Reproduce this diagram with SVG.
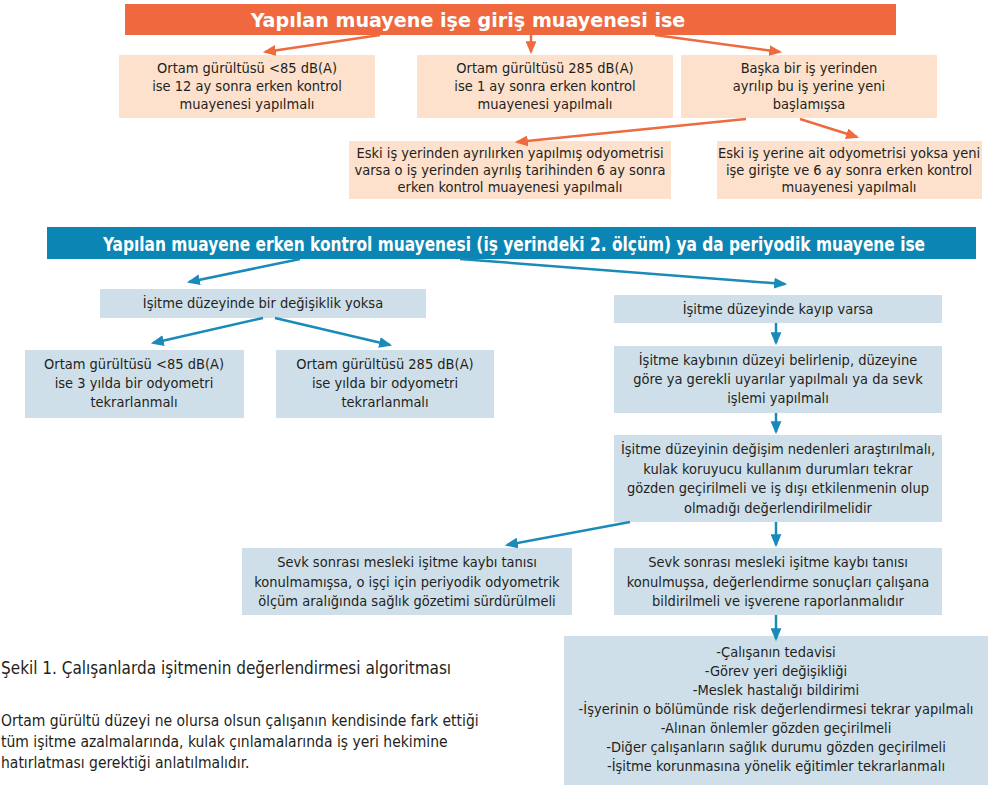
<svg xmlns="http://www.w3.org/2000/svg" width="1000" height="791" viewBox="0 0 1000 791">
<defs>
<style>
text{font-family:"Liberation Sans Narrow","DejaVu Sans Condensed","Roboto Condensed","Liberation Sans",sans-serif;fill:#231f20;font-size:14.5px;text-anchor:middle}
.hdr{fill:#fff;font-weight:bold;font-size:20px}
.ob{fill:#fde1cc}
.bb{fill:#cfdfea}
.oa{stroke:#ee6a3f;stroke-width:2.5;fill:none;marker-end:url(#ao)}
.ba{stroke:#1a8ab8;stroke-width:2.5;fill:none;marker-end:url(#ab)}
.left{text-anchor:start;font-size:15.5px}
</style>
<marker id="ao" viewBox="0 0 12 10" refX="10" refY="5" markerWidth="13" markerHeight="11" markerUnits="userSpaceOnUse" orient="auto"><path d="M0,0 L12,5 L0,10 Z" fill="#ee6a3f"/></marker>
<marker id="ab" viewBox="0 0 12 10" refX="10" refY="5" markerWidth="13" markerHeight="11" markerUnits="userSpaceOnUse" orient="auto"><path d="M0,0 L12,5 L0,10 Z" fill="#1a8ab8"/></marker>
</defs>
<rect width="1000" height="791" fill="#fff"/>

<g id="n-giris">
<rect x="125" y="4" width="771" height="31" fill="#f0683d"/>
<text class="hdr" transform="translate(468,27) scale(0.9,1)" x="0" y="0" textLength="483" lengthAdjust="spacingAndGlyphs">Yapılan muayene işe giriş muayenesi ise</text>
</g>
<g id="n-o1">
<rect class="ob" x="119" y="55" width="256" height="63"/>
<text x="247" y="73">Ortam gürültüsü &lt;85 dB(A)</text>
<text x="247" y="91">ise 12 ay sonra erken kontrol</text>
<text x="247" y="109">muayenesi yapılmalı</text>
</g>
<g id="n-o2">
<rect class="ob" x="417" y="55" width="256" height="63"/>
<text x="545" y="73">Ortam gürültüsü 285 dB(A)</text>
<text x="545" y="91">ise 1 ay sonra erken kontrol</text>
<text x="545" y="109">muayenesi yapılmalı</text>
</g>
<g id="n-o3">
<rect class="ob" x="681" y="55" width="256" height="63"/>
<text x="809" y="73">Başka bir iş yerinden</text>
<text x="809" y="91">ayrılıp bu iş yerine yeni</text>
<text x="809" y="109">başlamışsa</text>
</g>
<g id="n-o4">
<rect class="ob" x="349" y="141" width="322" height="58"/>
<text x="510" y="158">Eski iş yerinden ayrılırken yapılmış odyometrisi</text>
<text x="510" y="175">varsa o iş yerinden ayrılış tarihinden 6 ay sonra</text>
<text x="510" y="192">erken kontrol muayenesi yapılmalı</text>
</g>
<g id="n-o5">
<rect class="ob" x="717" y="141" width="265" height="58"/>
<text x="849" y="158">Eski iş yerine ait odyometrisi yoksa yeni</text>
<text x="849" y="175">işe girişte ve 6 ay sonra erken kontrol</text>
<text x="849" y="192">muayenesi yapılmalı</text>
</g>

<g id="n-periyodik">
<rect x="47" y="227" width="929" height="32" fill="#0b86b4"/>
<text class="hdr" transform="translate(514,251) scale(0.86,1)" x="0" y="0" textLength="956" lengthAdjust="spacingAndGlyphs">Yapılan muayene erken kontrol muayenesi (iş yerindeki 2. ölçüm) ya da periyodik muayene ise</text>
</g>
<g id="n-b1">
<rect class="bb" x="100" y="289" width="326" height="29"/>
<text x="263" y="308">İşitme düzeyinde bir değişiklik yoksa</text>
</g>
<g id="n-b2">
<rect class="bb" x="614" y="295" width="328" height="28"/>
<text x="778" y="314">İşitme düzeyinde kayıp varsa</text>
</g>
<g id="n-b3">
<rect class="bb" x="25" y="350" width="219" height="68"/>
<text x="134" y="369">Ortam gürültüsü &lt;85 dB(A)</text>
<text x="134" y="388">ise 3 yılda bir odyometri</text>
<text x="134" y="407">tekrarlanmalı</text>
</g>
<g id="n-b4">
<rect class="bb" x="276" y="350" width="218" height="68"/>
<text x="385" y="369">Ortam gürültüsü 285 dB(A)</text>
<text x="385" y="388">ise yılda bir odyometri</text>
<text x="385" y="407">tekrarlanmalı</text>
</g>
<g id="n-b5">
<rect class="bb" x="614" y="346" width="328" height="67"/>
<text x="778" y="365">İşitme kaybının düzeyi belirlenip, düzeyine</text>
<text x="778" y="384">göre ya gerekli uyarılar yapılmalı ya da sevk</text>
<text x="778" y="403">işlemi yapılmalı</text>
</g>
<g id="n-b6">
<rect class="bb" x="614" y="435" width="328" height="87"/>
<text x="778" y="454">İşitme düzeyinin değişim nedenleri araştırılmalı,</text>
<text x="778" y="474">kulak koruyucu kullanım durumları tekrar</text>
<text x="778" y="493">gözden geçirilmeli ve iş dışı etkilenmenin olup</text>
<text x="778" y="513">olmadığı değerlendirilmelidir</text>
</g>
<g id="n-b7">
<rect class="bb" x="242" y="548" width="330" height="67"/>
<text x="407" y="567">Sevk sonrası mesleki işitme kaybı tanısı</text>
<text x="407" y="587">konulmamışsa, o işçi için periyodik odyometrik</text>
<text x="407" y="606">ölçüm aralığında sağlık gözetimi sürdürülmeli</text>
</g>
<g id="n-b8">
<rect class="bb" x="614" y="548" width="328" height="67"/>
<text x="778" y="567">Sevk sonrası mesleki işitme kaybı tanısı</text>
<text x="778" y="587">konulmuşsa, değerlendirme sonuçları çalışana</text>
<text x="778" y="606">bildirilmeli ve işverene raporlanmalıdır</text>
</g>
<g id="n-b9">
<rect class="bb" x="564" y="636" width="424" height="149"/>
<text x="776" y="657">-Çalışanın tedavisi</text>
<text x="776" y="676">-Görev yeri değişikliği</text>
<text x="776" y="695">-Meslek hastalığı bildirimi</text>
<text x="776" y="714">-İşyerinin o bölümünde risk değerlendirmesi tekrar yapılmalı</text>
<text x="776" y="733">-Alınan önlemler gözden geçirilmeli</text>
<text x="776" y="752">-Diğer çalışanların sağlık durumu gözden geçirilmeli</text>
<text x="776" y="771">-İşitme korunmasına yönelik eğitimler tekrarlanmalı</text>
</g>

<g id="connectors">
<path class="oa" d="M380,35 L265,52"/>
<path class="oa" d="M531,35 L531,52"/>
<path class="oa" d="M655,35 L780,52"/>
<path class="oa" d="M746,119 L517,142"/>
<path class="oa" d="M800,119 L857,137"/>
<path class="ba" d="M300,259 L189,282"/>
<path class="ba" d="M460,259 L785,284"/>
<path class="ba" d="M263,318 L153,343"/>
<path class="ba" d="M275,318 L390,345"/>
<path class="ba" d="M776,323 L776,343"/>
<path class="ba" d="M776,413 L776,432"/>
<path class="ba" d="M630,522 L507,545"/>
<path class="ba" d="M776,522 L776,545"/>
<path class="ba" d="M776,615 L776,639"/>
</g>

<g id="caption">
<text class="left" x="1" y="674" style="font-size:17px">Şekil 1. Çalışanlarda işitmenin değerlendirmesi algoritması</text>
<text class="left" x="1" y="726">Ortam gürültü düzeyi ne olursa olsun çalışanın kendisinde fark ettiği</text>
<text class="left" x="1" y="747">tüm işitme azalmalarında, kulak çınlamalarında iş yeri hekimine</text>
<text class="left" x="1" y="768">hatırlatması gerektiği anlatılmalıdır.</text>
</g>
</svg>
